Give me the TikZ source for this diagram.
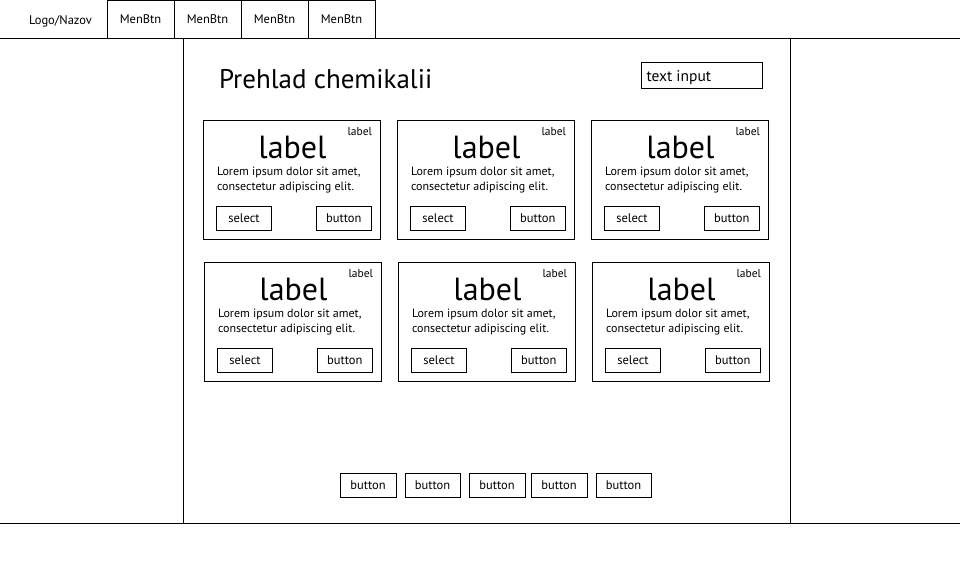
\documentclass[tikz,border=0pt]{standalone}
\usepackage{fontspec}
\setmainfont{PT Sans}
\newcommand\fs[1]{\fontsize{#1}{#1}\selectfont}
\newcommand\mycard[3]{%
  \node[bx, minimum width=177pt, minimum height=119pt] (#1) at (#2+88.5,#3+59.5) {};
  \node[tx, anchor=base, font=\fs{32}] (#1big) at (#2+89.5,#3+38) {label};
  \node[tx, anchor=base east, font=\fs{11.5}] (#1small) at (#2+169,#3+15) {label};
  \node[tx, anchor=base west, font=\fs{12}] (#1l1) at (#2+14,#3+55) {Lorem ipsum dolor sit amet,};
  \node[tx, anchor=base west, font=\fs{12}] (#1l2) at (#2+14,#3+70) {consectetur adipiscing elit.};
  \node[btn, minimum width=55pt] (#1sel) at (#2+41,#3+98.25) {select};
  \node[btn, minimum width=55.5pt] (#1btn) at (#2+140.75,#3+98.25) {button};
}
\begin{document}
\begin{tikzpicture}[x=1pt,y=-1pt,
  bx/.style={draw, line width=1pt, inner sep=0pt, outer sep=0pt},
  btn/.style={bx, minimum height=23.5pt, font=\fs{12.5}},
  tab/.style={bx, minimum width=67pt, minimum height=37.5pt, font=\fs{12.5}},
  tx/.style={inner sep=0pt, outer sep=0pt},
  ln/.style={line width=1pt}]
\useasboundingbox (0,0) rectangle (960,560);
\fill[white] (0,0) rectangle (960,560);
% header
\node[tx, font=\fs{12.5}] (logo) at (60.5,21) {Logo/Nazov};
\node[tab] (t1) at (140.5,19.25) {MenBtn};
\node[tab] (t2) at (207.5,19.25) {MenBtn};
\node[tab] (t3) at (274.5,19.25) {MenBtn};
\node[tab] (t4) at (341.5,19.25) {MenBtn};
\coordinate (hl) at (0,38);
\coordinate (hr) at (960,38);
\coordinate (bl) at (0,523);
\coordinate (br) at (960,523);
\coordinate (v1t) at (183.5,38);
\coordinate (v1b) at (183.5,523);
\coordinate (v2t) at (790,38);
\coordinate (v2b) at (790,523);
\draw[ln] (hl) -- (hr);
\draw[ln] (bl) -- (br);
\draw[ln] (v1t) -- (v1b);
\draw[ln] (v2t) -- (v2b);
% title and input
\node[tx, anchor=base west, font=\fs{27}] (title) at (219,88) {Prehlad chemikalii};
\node[bx, minimum width=121pt, minimum height=26pt] (inp) at (702,75.5) {};
\node[tx, anchor=base west, font=\fs{15.5}] (inptxt) at (646.5,81.5) {text input};
% cards
\mycard{ca}{203}{120}
\mycard{cb}{397}{120}
\mycard{cc}{591}{120}
\mycard{cd}{204}{262}
\mycard{ce}{398}{262}
\mycard{cf}{592}{262}
% pager
\node[btn, minimum width=56pt] (p1) at (368,485.25) {button};
\node[btn, minimum width=55pt] (p2) at (432.5,485.25) {button};
\node[btn, minimum width=56pt] (p3) at (497,485.25) {button};
\node[btn, minimum width=56pt] (p4) at (559,485.25) {button};
\node[btn, minimum width=55pt] (p5) at (623.5,485.25) {button};
\end{tikzpicture}
\end{document}
